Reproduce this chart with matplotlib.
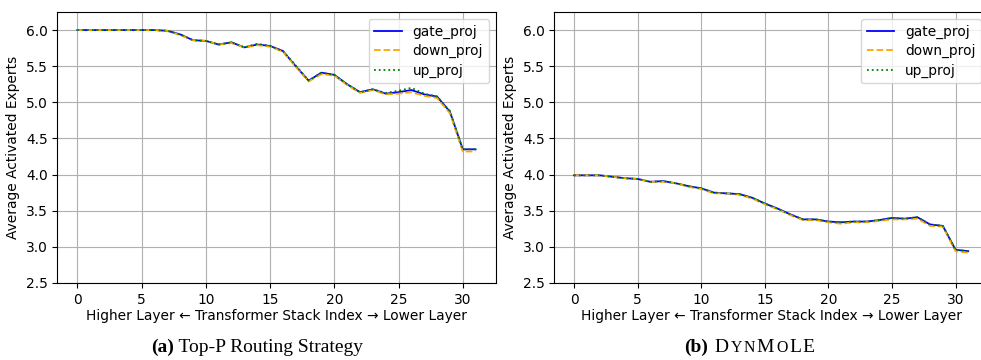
import matplotlib.pyplot as plt
from matplotlib.offsetbox import TextArea, HPacker, AnchoredOffsetbox

layers = list(range(32))

# Top-P routing strategy
topp_gate = [6.00, 6.00, 6.00, 6.00, 6.00, 6.00, 6.00, 5.99, 5.94, 5.86, 5.85, 5.80,
             5.83, 5.76, 5.80, 5.78, 5.71, 5.50, 5.30, 5.41, 5.38, 5.25, 5.14, 5.18,
             5.12, 5.14, 5.17, 5.11, 5.08, 4.87, 4.35, 4.35]
topp_down = [6.00, 6.00, 6.00, 6.00, 6.00, 6.00, 6.00, 5.99, 5.93, 5.86, 5.85, 5.80,
             5.82, 5.76, 5.79, 5.77, 5.70, 5.49, 5.29, 5.39, 5.37, 5.24, 5.13, 5.17,
             5.11, 5.12, 5.14, 5.09, 5.06, 4.85, 4.32, 4.32]
topp_up = [6.00, 6.00, 6.00, 6.00, 6.00, 6.00, 6.00, 5.99, 5.94, 5.86, 5.85, 5.80,
           5.83, 5.76, 5.81, 5.78, 5.71, 5.51, 5.30, 5.41, 5.38, 5.25, 5.14, 5.18,
           5.13, 5.16, 5.20, 5.12, 5.08, 4.88, 4.35, 4.35]

# DynMoLE
dyn_gate = [3.99, 3.99, 3.99, 3.97, 3.95, 3.94, 3.90, 3.91, 3.88, 3.84, 3.81, 3.75,
            3.74, 3.73, 3.68, 3.60, 3.53, 3.45, 3.38, 3.38, 3.35, 3.34, 3.35, 3.35,
            3.37, 3.40, 3.39, 3.41, 3.31, 3.29, 2.96, 2.94]
dyn_down = [3.99, 3.99, 3.99, 3.97, 3.95, 3.94, 3.90, 3.90, 3.88, 3.83, 3.80, 3.74,
            3.74, 3.72, 3.67, 3.59, 3.52, 3.44, 3.37, 3.37, 3.34, 3.32, 3.34, 3.34,
            3.36, 3.38, 3.38, 3.39, 3.29, 3.28, 2.94, 2.92]
dyn_up = [3.99, 3.99, 3.99, 3.97, 3.95, 3.94, 3.90, 3.91, 3.88, 3.84, 3.81, 3.75,
          3.74, 3.73, 3.68, 3.60, 3.53, 3.45, 3.38, 3.38, 3.35, 3.34, 3.35, 3.35,
          3.37, 3.40, 3.39, 3.41, 3.31, 3.29, 2.96, 2.94]

panels = [
    (topp_gate, topp_down, topp_up),
    (dyn_gate, dyn_down, dyn_up),
]

FS = 9.9
fig = plt.figure(figsize=(9.81, 3.6), dpi=100)
ax_left = fig.add_axes([0.0586, 0.2139, 0.4465, 0.7528])
ax_right = fig.add_axes([0.5651, 0.2139, 0.4420, 0.7528])

for ax, (gate, down, up) in zip([ax_left, ax_right], panels):
    ax.plot(layers, gate, color='blue', linewidth=1.3, linestyle='-', label='gate_proj')
    ax.plot(layers, down, color='orange', linewidth=1.3, linestyle='--', label='down_proj')
    ax.plot(layers, up, color='green', linewidth=1.3, linestyle=':', label='up_proj')
    ax.set_xlim(-1.55, 32.55)
    ax.set_ylim(2.5, 6.25)
    ax.set_xticks([0, 5, 10, 15, 20, 25, 30])
    ax.set_yticks([2.5, 3.0, 3.5, 4.0, 4.5, 5.0, 5.5, 6.0])
    ax.tick_params(labelsize=FS)
    ax.grid(True, color='#b0b0b0', linewidth=0.8)
    ax.set_xlabel('Higher Layer \u2190 Transformer Stack Index \u2192 Lower Layer',
                  fontsize=FS, labelpad=2)
    ax.set_ylabel('Average Activated Experts', fontsize=FS, labelpad=4)
    ax.legend(loc='upper right', fontsize=FS, handlelength=2.0, labelspacing=0.4)

# captions
serif = 'Liberation Serif'
CS = 14


def caption(parts, x, sep=0):
    boxes = [TextArea(t, textprops=dict(family=serif, fontsize=s, fontweight=w))
             for t, s, w in parts]
    pack = HPacker(children=boxes, align='baseline', pad=0, sep=sep)
    box = AnchoredOffsetbox(loc='center', child=pack, frameon=False,
                            bbox_to_anchor=(x, 0.035), bbox_transform=fig.transFigure,
                            pad=0, borderpad=0)
    fig.add_artist(box)


caption([('(a)', CS, 'bold'), (' Top-P Routing Strategy', CS, 'normal')], 0.262)
caption([('(b)', CS, 'bold'), (' D', CS, 'normal'), ('Y', CS * 0.82, 'normal'),
         ('N', CS * 0.82, 'normal'), ('M', CS, 'normal'), ('O', CS * 0.82, 'normal'),
         ('L', CS, 'normal'), ('E', CS, 'normal')], 0.764, sep=1.2)

fig.savefig('out.png', dpi=100)
